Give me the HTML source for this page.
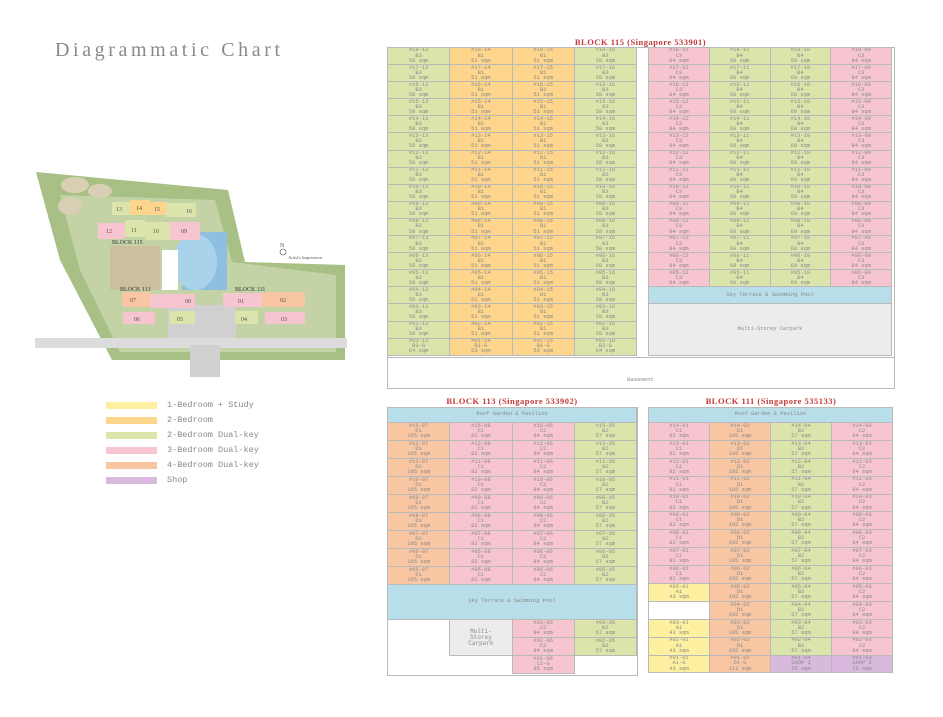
<!DOCTYPE html>
<html><head><meta charset="utf-8"><style>
body{margin:0;width:943px;height:717px;background:#fff;position:relative;overflow:hidden;font-family:"Liberation Serif",serif}
.ab{position:absolute}
table{border-collapse:collapse;table-layout:fixed;position:absolute}
td{border:1px solid #b9b9b9;padding:0;text-align:center;font:5.4px/5.1px "Liberation Mono",monospace;color:#8a8a8a;overflow:hidden;white-space:nowrap}
.g{background:#dbe5ab}.o{background:#fdd58c}.p{background:#f6c5cf}.a{background:#f9c6a3}.y{background:#fdf0a0}.v{background:#d9bade}.b{background:#b7dee9}.e{background:#ececec}
.n{border:none;background:#fff}
.t{font:bold 8.5px "Liberation Serif",serif;color:#c23a3a;letter-spacing:.5px;text-align:center}
.lg div{position:absolute;left:106px;width:51px;height:7px}
.lg span{position:absolute;left:167px;font:8.5px "Liberation Mono",monospace;color:#888}
</style></head><body>
<div class="ab" style="left:55px;top:39px;font-size:20px;color:#8a8a8a;letter-spacing:3.6px">Diagrammatic Chart</div>

<svg class="ab" style="left:30px;top:165px" width="330" height="215" viewBox="30 165 330 215">
<polygon points="36,172 228,190 245,262 345,265 345,360 112,360 60,260" fill="#a8bf86"/>
<polygon points="60,195 215,200 232,262 336,275 336,352 120,352 80,270" fill="#c3d3a6"/>
<ellipse cx="75" cy="185" rx="14" ry="8" fill="#d9cfb4"/><ellipse cx="100" cy="191" rx="12" ry="7" fill="#d9cfb4"/><ellipse cx="70" cy="206" rx="12" ry="9" fill="#d9cfb4"/>
<rect x="110" y="246" width="50" height="44" fill="#cbbfa0"/>
<rect x="182" y="232" width="45" height="58" fill="#8fbfe0"/>
<ellipse cx="195" cy="262" rx="22" ry="28" fill="#a9d3ea"/>
<rect x="162" y="250" width="16" height="40" fill="#fff"/>
<rect x="168" y="305" width="68" height="40" fill="#d0d0d0"/>
<rect x="35" y="338" width="312" height="10" fill="#dcdcdc"/>
<rect x="190" y="345" width="30" height="32" fill="#d0d0d0"/>
<rect x="112" y="202" width="18" height="13" fill="#dbe5ab"/><rect x="130" y="200" width="20" height="15" fill="#fdd58c"/><rect x="150" y="202" width="16" height="13" fill="#fdd58c"/><rect x="166" y="203" width="30" height="14" fill="#dbe5ab"/>
<rect x="98" y="223" width="27" height="16" fill="#f6c5cf"/><rect x="125" y="220" width="20" height="17" fill="#dbe5ab"/><rect x="145" y="222" width="25" height="18" fill="#dbe5ab"/><rect x="170" y="222" width="30" height="18" fill="#f6c5cf"/>
<rect x="122" y="292" width="28" height="15" fill="#f9c6a3"/><rect x="150" y="294" width="45" height="14" fill="#f6c5cf"/><rect x="223" y="293" width="39" height="14" fill="#f6c5cf"/><rect x="262" y="292" width="43" height="15" fill="#f9c6a3"/>
<rect x="123" y="312" width="32" height="12" fill="#f6c5cf"/><rect x="170" y="311" width="25" height="13" fill="#dbe5ab"/><rect x="235" y="311" width="23" height="13" fill="#dbe5ab"/><rect x="265" y="312" width="40" height="12" fill="#f6c5cf"/>
<g font-family="Liberation Serif" font-size="6" fill="#555">
<text x="116" y="211">13</text><text x="136" y="210">14</text><text x="154" y="211">15</text><text x="186" y="213">16</text>
<text x="106" y="233">12</text><text x="131" y="232">11</text><text x="153" y="233">10</text><text x="181" y="233">09</text>
<text x="130" y="302">07</text><text x="185" y="303">08</text><text x="238" y="303">01</text><text x="280" y="302">02</text>
<text x="134" y="321">06</text><text x="177" y="321">05</text><text x="241" y="321">04</text><text x="281" y="321">03</text>
<text x="112" y="244" fill="#333">BLOCK 115</text><text x="120" y="291" fill="#333">BLOCK 113</text><text x="235" y="291" fill="#333">BLOCK 111</text>
<text x="280" y="247">N</text><circle cx="283" cy="252" r="3" fill="none" stroke="#555" stroke-width=".6"/>
<text x="288" y="259" font-size="4.5">Artist's Impression</text></g>
</svg>

<div class="lg">
<div style="top:402px" class="y"></div><span style="top:400px">1-Bedroom + Study</span>
<div style="top:417px" class="o"></div><span style="top:415px">2-Bedroom</span>
<div style="top:432px" class="g"></div><span style="top:430px">2-Bedroom Dual-key</span>
<div style="top:447px" class="p"></div><span style="top:445px">3-Bedroom Dual-key</span>
<div style="top:462px" class="a"></div><span style="top:460px">4-Bedroom Dual-key</span>
<div style="top:477px" class="v"></div><span style="top:475px">Shop</span>
</div>

<div class="ab t" style="left:387px;width:507px;top:37px">BLOCK 115 (Singapore 533901)</div>
<div class="ab" style="left:387px;top:47px;width:506px;height:340px;border:1px solid #b9b9b9"></div>
<table style="left:387px;top:47px;width:250px"><colgroup><col><col><col><col></colgroup>
<tr style="height:17.1px"><td class=g>#18-13<br>B3<br>58 sqm</td><td class=o>#18-14<br>B1<br>51 sqm</td><td class=o>#18-15<br>B1<br>51 sqm</td><td class=g>#18-16<br>B3<br>58 sqm</td></tr>
<tr style="height:17.1px"><td class=g>#17-13<br>B3<br>58 sqm</td><td class=o>#17-14<br>B1<br>51 sqm</td><td class=o>#17-15<br>B1<br>51 sqm</td><td class=g>#17-16<br>B3<br>58 sqm</td></tr>
<tr style="height:17.1px"><td class=g>#16-13<br>B3<br>58 sqm</td><td class=o>#16-14<br>B1<br>51 sqm</td><td class=o>#16-15<br>B1<br>51 sqm</td><td class=g>#16-16<br>B3<br>58 sqm</td></tr>
<tr style="height:17.1px"><td class=g>#15-13<br>B3<br>58 sqm</td><td class=o>#15-14<br>B1<br>51 sqm</td><td class=o>#15-15<br>B1<br>51 sqm</td><td class=g>#15-16<br>B3<br>58 sqm</td></tr>
<tr style="height:17.1px"><td class=g>#14-13<br>B3<br>58 sqm</td><td class=o>#14-14<br>B1<br>51 sqm</td><td class=o>#14-15<br>B1<br>51 sqm</td><td class=g>#14-16<br>B3<br>58 sqm</td></tr>
<tr style="height:17.1px"><td class=g>#13-13<br>B3<br>58 sqm</td><td class=o>#13-14<br>B1<br>51 sqm</td><td class=o>#13-15<br>B1<br>51 sqm</td><td class=g>#13-16<br>B3<br>58 sqm</td></tr>
<tr style="height:17.1px"><td class=g>#12-13<br>B3<br>58 sqm</td><td class=o>#12-14<br>B1<br>51 sqm</td><td class=o>#12-15<br>B1<br>51 sqm</td><td class=g>#12-16<br>B3<br>58 sqm</td></tr>
<tr style="height:17.1px"><td class=g>#11-13<br>B3<br>58 sqm</td><td class=o>#11-14<br>B1<br>51 sqm</td><td class=o>#11-15<br>B1<br>51 sqm</td><td class=g>#11-16<br>B3<br>58 sqm</td></tr>
<tr style="height:17.1px"><td class=g>#10-13<br>B3<br>58 sqm</td><td class=o>#10-14<br>B1<br>51 sqm</td><td class=o>#10-15<br>B1<br>51 sqm</td><td class=g>#10-16<br>B3<br>58 sqm</td></tr>
<tr style="height:17.1px"><td class=g>#09-13<br>B3<br>58 sqm</td><td class=o>#09-14<br>B1<br>51 sqm</td><td class=o>#09-15<br>B1<br>51 sqm</td><td class=g>#09-16<br>B3<br>58 sqm</td></tr>
<tr style="height:17.1px"><td class=g>#08-13<br>B3<br>58 sqm</td><td class=o>#08-14<br>B1<br>51 sqm</td><td class=o>#08-15<br>B1<br>51 sqm</td><td class=g>#08-16<br>B3<br>58 sqm</td></tr>
<tr style="height:17.1px"><td class=g>#07-13<br>B3<br>58 sqm</td><td class=o>#07-14<br>B1<br>51 sqm</td><td class=o>#07-15<br>B1<br>51 sqm</td><td class=g>#07-16<br>B3<br>58 sqm</td></tr>
<tr style="height:17.1px"><td class=g>#06-13<br>B3<br>58 sqm</td><td class=o>#06-14<br>B1<br>51 sqm</td><td class=o>#06-15<br>B1<br>51 sqm</td><td class=g>#06-16<br>B3<br>58 sqm</td></tr>
<tr style="height:17.1px"><td class=g>#05-13<br>B3<br>58 sqm</td><td class=o>#05-14<br>B1<br>51 sqm</td><td class=o>#05-15<br>B1<br>51 sqm</td><td class=g>#05-16<br>B3<br>58 sqm</td></tr>
<tr style="height:17.1px"><td class=g>#04-13<br>B3<br>58 sqm</td><td class=o>#04-14<br>B1<br>51 sqm</td><td class=o>#04-15<br>B1<br>51 sqm</td><td class=g>#04-16<br>B3<br>58 sqm</td></tr>
<tr style="height:17.1px"><td class=g>#03-13<br>B3<br>58 sqm</td><td class=o>#03-14<br>B1<br>51 sqm</td><td class=o>#03-15<br>B1<br>51 sqm</td><td class=g>#03-16<br>B3<br>58 sqm</td></tr>
<tr style="height:17.1px"><td class=g>#02-13<br>B3<br>58 sqm</td><td class=o>#02-14<br>B1<br>51 sqm</td><td class=o>#02-15<br>B1<br>51 sqm</td><td class=g>#02-16<br>B3<br>58 sqm</td></tr>
<tr style="height:17.1px"><td class=g>#01-13<br>B3-G<br>64 sqm</td><td class=o>#01-14<br>B1-G<br>53 sqm</td><td class=o>#01-15<br>B1-G<br>53 sqm</td><td class=g>#01-16<br>B3-G<br>64 sqm</td></tr>
</table>
<table style="left:648px;top:47px;width:244px"><colgroup><col><col><col><col></colgroup>
<tr style="height:17.1px"><td class=p>#18-12<br>C3<br>84 sqm</td><td class=g>#18-11<br>B4<br>60 sqm</td><td class=g>#18-10<br>B4<br>60 sqm</td><td class=p>#18-09<br>C3<br>84 sqm</td></tr>
<tr style="height:17.1px"><td class=p>#17-12<br>C3<br>84 sqm</td><td class=g>#17-11<br>B4<br>60 sqm</td><td class=g>#17-10<br>B4<br>60 sqm</td><td class=p>#17-09<br>C3<br>84 sqm</td></tr>
<tr style="height:17.1px"><td class=p>#16-12<br>C3<br>84 sqm</td><td class=g>#16-11<br>B4<br>60 sqm</td><td class=g>#16-10<br>B4<br>60 sqm</td><td class=p>#16-09<br>C3<br>84 sqm</td></tr>
<tr style="height:17.1px"><td class=p>#15-12<br>C3<br>84 sqm</td><td class=g>#15-11<br>B4<br>60 sqm</td><td class=g>#15-10<br>B4<br>60 sqm</td><td class=p>#15-09<br>C3<br>84 sqm</td></tr>
<tr style="height:17.1px"><td class=p>#14-12<br>C3<br>84 sqm</td><td class=g>#14-11<br>B4<br>60 sqm</td><td class=g>#14-10<br>B4<br>60 sqm</td><td class=p>#14-09<br>C3<br>84 sqm</td></tr>
<tr style="height:17.1px"><td class=p>#13-12<br>C3<br>84 sqm</td><td class=g>#13-11<br>B4<br>60 sqm</td><td class=g>#13-10<br>B4<br>60 sqm</td><td class=p>#13-09<br>C3<br>84 sqm</td></tr>
<tr style="height:17.1px"><td class=p>#12-12<br>C3<br>84 sqm</td><td class=g>#12-11<br>B4<br>60 sqm</td><td class=g>#12-10<br>B4<br>60 sqm</td><td class=p>#12-09<br>C3<br>84 sqm</td></tr>
<tr style="height:17.1px"><td class=p>#11-12<br>C3<br>84 sqm</td><td class=g>#11-11<br>B4<br>60 sqm</td><td class=g>#11-10<br>B4<br>60 sqm</td><td class=p>#11-09<br>C3<br>84 sqm</td></tr>
<tr style="height:17.1px"><td class=p>#10-12<br>C3<br>84 sqm</td><td class=g>#10-11<br>B4<br>60 sqm</td><td class=g>#10-10<br>B4<br>60 sqm</td><td class=p>#10-09<br>C3<br>84 sqm</td></tr>
<tr style="height:17.1px"><td class=p>#09-12<br>C3<br>84 sqm</td><td class=g>#09-11<br>B4<br>60 sqm</td><td class=g>#09-10<br>B4<br>60 sqm</td><td class=p>#09-09<br>C3<br>84 sqm</td></tr>
<tr style="height:17.1px"><td class=p>#08-12<br>C3<br>84 sqm</td><td class=g>#08-11<br>B4<br>60 sqm</td><td class=g>#08-10<br>B4<br>60 sqm</td><td class=p>#08-09<br>C3<br>84 sqm</td></tr>
<tr style="height:17.1px"><td class=p>#07-12<br>C3<br>84 sqm</td><td class=g>#07-11<br>B4<br>60 sqm</td><td class=g>#07-10<br>B4<br>60 sqm</td><td class=p>#07-09<br>C3<br>84 sqm</td></tr>
<tr style="height:17.1px"><td class=p>#06-12<br>C3<br>84 sqm</td><td class=g>#06-11<br>B4<br>60 sqm</td><td class=g>#06-10<br>B4<br>60 sqm</td><td class=p>#06-09<br>C3<br>84 sqm</td></tr>
<tr style="height:17.1px"><td class=p>#05-12<br>C3<br>84 sqm</td><td class=g>#05-11<br>B4<br>60 sqm</td><td class=g>#05-10<br>B4<br>60 sqm</td><td class=p>#05-09<br>C3<br>84 sqm</td></tr>
<tr style="height:17px"><td colspan=4 class=b>Sky Terrace &amp; Swimming Pool</td></tr>
<tr style="height:52px"><td colspan=4 class=e>Multi-Storey Carpark</td></tr>
</table>
<div class="ab" style="left:387px;top:357px;width:507px;height:31px;border-top:1px solid #b9b9b9;text-align:center;font:5.6px/44px 'Liberation Mono',monospace;color:#8a8a8a">Basement</div>

<div class="ab t" style="left:387px;width:250px;top:396px">BLOCK 113 (Singapore 533902)</div>
<div class="ab" style="left:387px;top:407px;width:249px;height:267px;border:1px solid #b9b9b9"></div>
<table style="left:387px;top:407px;width:250px"><colgroup><col><col><col><col></colgroup>
<tr style="height:15px"><td colspan=4 class=b>Roof Garden &amp; Pavilion</td></tr>
<tr style="height:18px"><td class=a>#15-07<br>D1<br>105 sqm</td><td class=p>#15-08<br>C1<br>82 sqm</td><td class=p>#15-06<br>C2<br>84 sqm</td><td class=g>#15-05<br>B2<br>57 sqm</td></tr>
<tr style="height:18px"><td class=a>#12-07<br>D1<br>105 sqm</td><td class=p>#12-08<br>C1<br>82 sqm</td><td class=p>#12-06<br>C2<br>84 sqm</td><td class=g>#12-05<br>B2<br>57 sqm</td></tr>
<tr style="height:18px"><td class=a>#11-07<br>D1<br>105 sqm</td><td class=p>#11-08<br>C1<br>82 sqm</td><td class=p>#11-06<br>C2<br>84 sqm</td><td class=g>#11-05<br>B2<br>57 sqm</td></tr>
<tr style="height:18px"><td class=a>#10-07<br>D1<br>105 sqm</td><td class=p>#10-08<br>C1<br>82 sqm</td><td class=p>#10-06<br>C2<br>84 sqm</td><td class=g>#10-05<br>B2<br>57 sqm</td></tr>
<tr style="height:18px"><td class=a>#09-07<br>D1<br>105 sqm</td><td class=p>#09-08<br>C1<br>82 sqm</td><td class=p>#09-06<br>C2<br>84 sqm</td><td class=g>#09-05<br>B2<br>57 sqm</td></tr>
<tr style="height:18px"><td class=a>#08-07<br>D1<br>105 sqm</td><td class=p>#08-08<br>C1<br>82 sqm</td><td class=p>#08-06<br>C2<br>84 sqm</td><td class=g>#08-05<br>B2<br>57 sqm</td></tr>
<tr style="height:18px"><td class=a>#07-07<br>D1<br>105 sqm</td><td class=p>#07-08<br>C1<br>82 sqm</td><td class=p>#07-06<br>C2<br>84 sqm</td><td class=g>#07-05<br>B2<br>57 sqm</td></tr>
<tr style="height:18px"><td class=a>#06-07<br>D1<br>105 sqm</td><td class=p>#06-08<br>C1<br>82 sqm</td><td class=p>#06-06<br>C2<br>84 sqm</td><td class=g>#06-05<br>B2<br>57 sqm</td></tr>
<tr style="height:18px"><td class=a>#05-07<br>D1<br>105 sqm</td><td class=p>#05-08<br>C1<br>82 sqm</td><td class=p>#05-06<br>C2<br>84 sqm</td><td class=g>#05-05<br>B2<br>57 sqm</td></tr>
<tr style="height:35px"><td colspan=4 class=b>Sky Terrace &amp; Swimming Pool</td></tr>
<tr style="height:18px"><td class=n></td><td rowspan=2 class=e style="font-size:6px;line-height:6px">Multi-<br>Storey<br>Carpark</td><td class=p>#03-06<br>C2<br>84 sqm</td><td class=g>#03-05<br>B2<br>57 sqm</td></tr>
<tr style="height:18px"><td class=n></td><td class=p>#02-06<br>C2<br>84 sqm</td><td class=g>#02-05<br>B2<br>57 sqm</td></tr>
<tr style="height:18px"><td class=n></td><td class=n></td><td class=p>#01-06<br>C2-G<br>85 sqm</td><td class=n></td></tr>
</table>

<div class="ab t" style="left:648px;width:246px;top:396px">BLOCK 111 (Singapore 535133)</div>
<table style="left:648px;top:407px;width:245px"><colgroup><col><col><col><col></colgroup>
<tr style="height:15px"><td colspan=4 class=b>Roof Garden &amp; Pavilion</td></tr>
<tr style="height:17.9px"><td class=p>#14-01<br>C1<br>82 sqm</td><td class=a>#14-02<br>D1<br>105 sqm</td><td class=g>#14-04<br>B2<br>57 sqm</td><td class=p>#14-03<br>C2<br>84 sqm</td></tr>
<tr style="height:17.9px"><td class=p>#13-01<br>C1<br>82 sqm</td><td class=a>#13-02<br>D1<br>105 sqm</td><td class=g>#13-04<br>B2<br>57 sqm</td><td class=p>#13-03<br>C2<br>84 sqm</td></tr>
<tr style="height:17.9px"><td class=p>#12-01<br>C1<br>82 sqm</td><td class=a>#12-02<br>D1<br>105 sqm</td><td class=g>#12-04<br>B2<br>57 sqm</td><td class=p>#12-03<br>C2<br>84 sqm</td></tr>
<tr style="height:17.9px"><td class=p>#11-01<br>C1<br>82 sqm</td><td class=a>#11-02<br>D1<br>105 sqm</td><td class=g>#11-04<br>B2<br>57 sqm</td><td class=p>#11-03<br>C2<br>84 sqm</td></tr>
<tr style="height:17.9px"><td class=p>#10-01<br>C1<br>82 sqm</td><td class=a>#10-02<br>D1<br>105 sqm</td><td class=g>#10-04<br>B2<br>57 sqm</td><td class=p>#10-03<br>C2<br>84 sqm</td></tr>
<tr style="height:17.9px"><td class=p>#09-01<br>C1<br>82 sqm</td><td class=a>#09-02<br>D1<br>105 sqm</td><td class=g>#09-04<br>B2<br>57 sqm</td><td class=p>#09-03<br>C2<br>84 sqm</td></tr>
<tr style="height:17.9px"><td class=p>#08-01<br>C1<br>82 sqm</td><td class=a>#08-02<br>D1<br>105 sqm</td><td class=g>#08-04<br>B2<br>57 sqm</td><td class=p>#08-03<br>C2<br>84 sqm</td></tr>
<tr style="height:17.9px"><td class=p>#07-01<br>C1<br>82 sqm</td><td class=a>#07-02<br>D1<br>105 sqm</td><td class=g>#07-04<br>B2<br>57 sqm</td><td class=p>#07-03<br>C2<br>84 sqm</td></tr>
<tr style="height:17.9px"><td class=p>#06-01<br>C1<br>82 sqm</td><td class=a>#06-02<br>D1<br>105 sqm</td><td class=g>#06-04<br>B2<br>57 sqm</td><td class=p>#06-03<br>C2<br>84 sqm</td></tr>
<tr style="height:17.9px"><td class=y>#05-01<br>A1<br>43 sqm</td><td class=a>#05-02<br>D1<br>105 sqm</td><td class=g>#05-04<br>B2<br>57 sqm</td><td class=p>#05-03<br>C2<br>84 sqm</td></tr>
<tr style="height:17.9px"><td style="background:#fff"></td><td class=a>#04-02<br>D1<br>105 sqm</td><td class=g>#04-04<br>B2<br>57 sqm</td><td class=p>#04-03<br>C2<br>84 sqm</td></tr>
<tr style="height:17.9px"><td class=y>#03-01<br>A1<br>43 sqm</td><td class=a>#03-02<br>D1<br>105 sqm</td><td class=g>#03-04<br>B2<br>57 sqm</td><td class=p>#03-03<br>C2<br>84 sqm</td></tr>
<tr style="height:17.9px"><td class=y>#02-01<br>A1<br>43 sqm</td><td class=a>#02-02<br>D1<br>105 sqm</td><td class=g>#02-04<br>B2<br>57 sqm</td><td class=p>#02-03<br>C2<br>84 sqm</td></tr>
<tr style="height:17.9px"><td class=y>#01-01<br>A1-G<br>43 sqm</td><td class=a>#01-02<br>D1-G<br>111 sqm</td><td class=v>#01-04<br>SHOP 1<br>25 sqm</td><td class=v>#01-03<br>SHOP 2<br>25 sqm</td></tr>
</table>
</body></html>
